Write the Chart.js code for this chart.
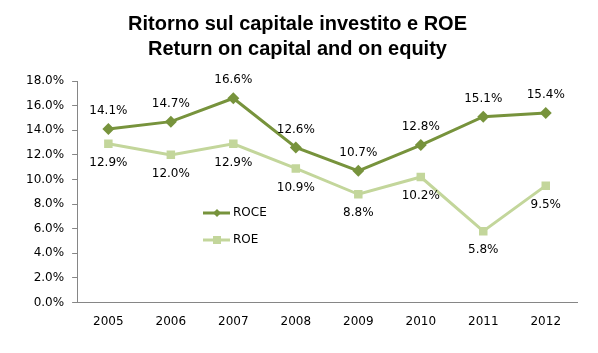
<!DOCTYPE html>
<html>
<head>
<meta charset="utf-8">
<script src="https://cdn.jsdelivr.net/npm/chart.js@4.4.1/dist/chart.umd.min.js"></script>
<style>
  html, body { margin: 0; padding: 0; background: #fff; }
  #wrap { width: 598px; height: 353px; position: relative; }
</style>
</head>
<body>
<div id="wrap"><canvas id="chart"></canvas></div>
<script>
const years = ['2005', '2006', '2007', '2008', '2009', '2010', '2011', '2012'];
const roce = [14.1, 14.7, 16.6, 12.6, 10.7, 12.8, 15.1, 15.4];
const roe = [12.9, 12.0, 12.9, 10.9, 8.8, 10.2, 5.8, 9.5];
const titleLines = ['Ritorno sul capitale investito e ROE', 'Return on capital and on equity'];

const ROCE_COLOR = '#77933C';
const ROE_COLOR = '#C3D69B';
const AXIS_COLOR = '#868686';
const TEXT_FONT = '"DejaVu Sans", Verdana, sans-serif';

// value labels: ROCE above the point, ROE below
const valueLabels = {
  id: 'valueLabels',
  afterDatasetsDraw(chart) {
    const ctx = chart.ctx;
    ctx.save();
    ctx.font = '12px ' + TEXT_FONT;
    ctx.fillStyle = '#000';
    ctx.textAlign = 'center';
    chart.data.datasets.forEach((ds, i) => {
      const meta = chart.getDatasetMeta(i);
      meta.data.forEach((pt, j) => {
        const txt = ds.data[j].toFixed(1) + '%';
        if (i === 0) {
          ctx.textBaseline = 'bottom';
          ctx.fillText(txt, pt.x, pt.y - 12);
        } else {
          ctx.textBaseline = 'top';
          ctx.fillText(txt, pt.x, pt.y + 13);
        }
      });
    });
    ctx.restore();
  }
};

// legend sitting inside the plot area
const innerLegend = {
  id: 'innerLegend',
  afterDraw(chart) {
    const ctx = chart.ctx;
    const x0 = 203, rows = [213, 240];
    ctx.save();
    chart.data.datasets.forEach((ds, i) => {
      const y = rows[i];
      ctx.strokeStyle = ds.borderColor;
      ctx.lineWidth = 3;
      ctx.beginPath();
      ctx.moveTo(x0, y);
      ctx.lineTo(x0 + 27, y);
      ctx.stroke();
      ctx.fillStyle = ds.borderColor;
      if (ds.pointStyle === 'rectRot') {
        ctx.beginPath();
        ctx.moveTo(x0 + 14, y - 4);
        ctx.lineTo(x0 + 18, y);
        ctx.lineTo(x0 + 14, y + 4);
        ctx.lineTo(x0 + 10, y);
        ctx.closePath();
        ctx.fill();
      } else {
        ctx.fillRect(x0 + 10, y - 4, 8, 8);
      }
      ctx.fillStyle = '#000';
      ctx.font = '12px ' + TEXT_FONT;
      ctx.textAlign = 'left';
      ctx.textBaseline = 'middle';
      ctx.fillText(ds.label, x0 + 30, y);
    });
    ctx.restore();
  }
};

new Chart(document.getElementById('chart'), {
  type: 'line',
  data: {
    labels: years,
    datasets: [
      {
        label: 'ROCE',
        data: roce,
        borderColor: ROCE_COLOR,
        backgroundColor: ROCE_COLOR,
        borderWidth: 3,
        pointStyle: 'rectRot',
        pointRadius: 6,
        pointBorderWidth: 0,
        tension: 0
      },
      {
        label: 'ROE',
        data: roe,
        borderColor: ROE_COLOR,
        backgroundColor: ROE_COLOR,
        borderWidth: 3,
        pointStyle: 'rect',
        pointRadius: 6,
        pointBorderWidth: 0,
        tension: 0
      }
    ]
  },
  options: {
    responsive: true,
    maintainAspectRatio: false,
    animation: false,
    layout: { padding: { left: 18, right: 21, top: 6, bottom: 12 } },
    plugins: {
      legend: { display: false },
      tooltip: { enabled: false },
      title: {
        display: true,
        text: titleLines,
        color: '#000',
        font: { family: '"Liberation Sans", Arial, sans-serif', size: 20, weight: 'bold', lineHeight: 1.25 },
        padding: { top: 6, bottom: 19 }
      }
    },
    scales: {
      x: {
        offset: true,
        grid: { display: false, drawTicks: false },
        border: { display: true, color: AXIS_COLOR, width: 1 },
        ticks: { color: '#000', font: { family: TEXT_FONT, size: 12 }, padding: 12 }
      },
      y: {
        min: 0,
        max: 18,
        grid: { display: true, drawOnChartArea: false, drawTicks: true, tickLength: 5, color: AXIS_COLOR },
        border: { display: true, color: AXIS_COLOR, width: 1 },
        ticks: {
          stepSize: 2,
          color: '#000',
          font: { family: TEXT_FONT, size: 12 },
          padding: 8,
          callback: v => v.toFixed(1) + '%'
        }
      }
    }
  },
  plugins: [valueLabels, innerLegend]
});
</script>
</body>
</html>
